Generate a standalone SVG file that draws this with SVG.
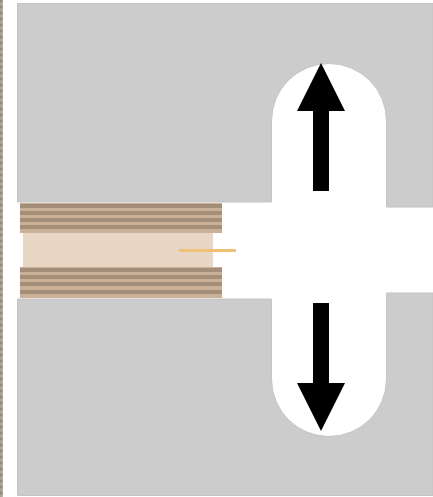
<svg xmlns="http://www.w3.org/2000/svg" width="433" height="497" viewBox="0 0 433 497">
<defs>
<style>
.dark{fill:#a38e79}
.light{fill:#c9b097}
.arrow{fill:#000}
.wall{fill:#cccccc;stroke:#c4c4c4;stroke-width:1}
</style>
<pattern id="grain" width="3" height="6" patternUnits="userSpaceOnUse">
<rect width="3" height="6" fill="#a89f8d"/>
<rect x="0" y="0" width="1.500" height="2" fill="#8f8672"/>
<rect x="1.500" y="3" width="1.500" height="2" fill="#bdb5a5"/>
</pattern>
</defs>
<rect width="433" height="497" fill="#fff"/>
<rect id="edge" x="0" y="0" width="3" height="497" fill="url(#grain)"/>
<path id="upper-wall" class="wall" d="M17.500 3.500H433V207H386.500V121A57.500 57.500 0 0 0 271.500 121V202H17.500Z"/>
<path id="lower-wall" class="wall" d="M17.500 299H271.500V379A57.500 57.500 0 0 0 386.500 379V293H433V495.500H17.500Z"/>
<g id="layers">
<rect x="23" y="233" width="190" height="34" fill="#e8d7c4"/>
<rect class="light" x="20" y="203" width="202" height="30"/>
<rect class="dark" x="20" y="204" width="202" height="4"/>
<rect class="dark" x="20" y="211" width="202" height="4"/>
<rect class="dark" x="20" y="218" width="202" height="4"/>
<rect class="dark" x="20" y="225" width="202" height="4"/>
<rect class="light" x="20" y="267" width="202" height="31"/>
<rect class="dark" x="20" y="268" width="202" height="4"/>
<rect class="dark" x="20" y="275" width="202" height="4"/>
<rect class="dark" x="20" y="282" width="202" height="4"/>
<rect class="dark" x="20" y="290" width="202" height="4"/>
<rect x="179" y="249" width="57" height="3" fill="#f1c078"/>
</g>
<g id="connectors">
<path class="arrow" d="M321 63L345 111H329V191H313V111H297Z"/>
<path class="arrow" d="M321 431L345 383H329V303H313V383H297Z"/>
</g>
</svg>
